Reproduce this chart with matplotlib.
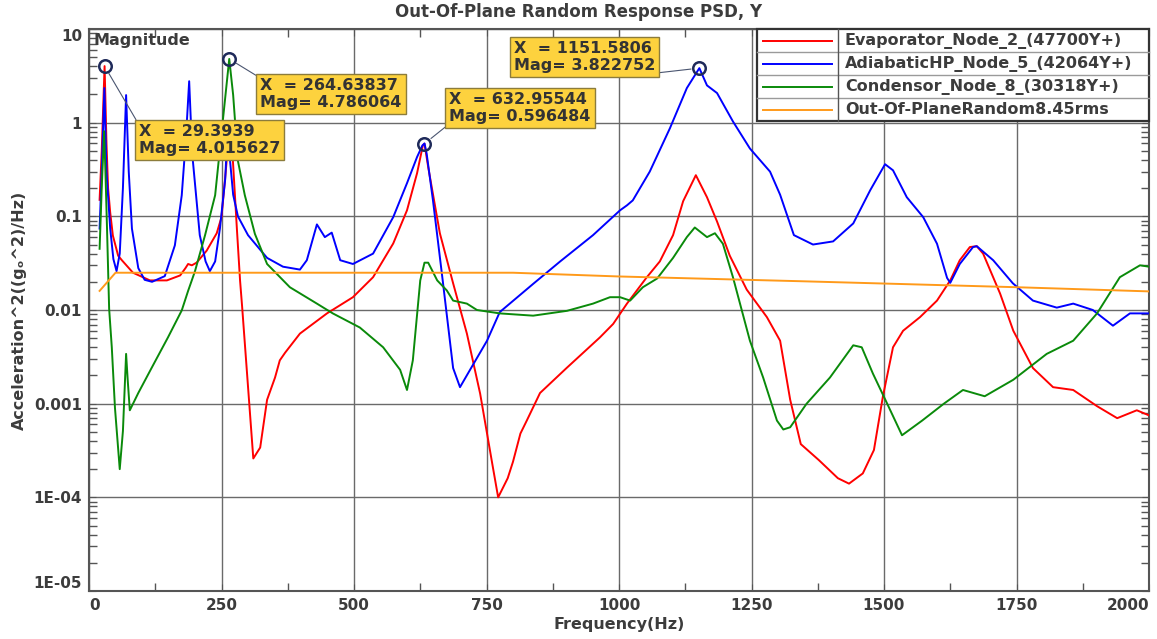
import matplotlib
matplotlib.use("Agg")
import matplotlib.pyplot as plt
from matplotlib.patches import Rectangle
from matplotlib.ticker import FixedLocator, LogLocator, MultipleLocator, NullFormatter

# values (frequency in Hz, PSD in g^2/Hz)
evap_f = [20, 24, 29.4, 33, 36, 40, 45, 55, 62, 83, 115, 147, 172, 182, 187, 194, 203,
          222, 241, 250, 258, 265, 270, 279, 285, 289, 310, 323, 336, 351, 360, 370, 398,
          449, 498, 536, 574, 600, 619, 630, 633, 640, 662, 687, 713, 738, 762, 772, 790,
          800, 814, 826, 851, 901, 964, 989, 1015, 1052, 1077, 1102, 1121, 1145, 1166,
          1185, 1209, 1241, 1279, 1304, 1323, 1343, 1377, 1413, 1434, 1460, 1481, 1498,
          1517, 1536, 1568, 1600, 1625, 1643, 1662, 1675, 1687, 1719, 1744, 1781, 1819,
          1857, 1902, 1940, 1977, 2000]
evap_mag = [0.15, 0.5, 4.016, 0.6, 0.2, 0.11, 0.0625, 0.038, 0.034, 0.025, 0.0207, 0.0207,
            0.0234, 0.028, 0.031, 0.030, 0.032, 0.043, 0.066, 0.098, 0.3, 0.9, 0.55, 0.074,
            0.0207, 0.0107, 2.6e-4, 3.4e-4, 0.0011, 0.0019, 0.0029, 0.0035, 0.0056, 0.0092,
            0.0137, 0.0224, 0.0513, 0.116, 0.289, 0.575, 0.596, 0.335, 0.066, 0.0193, 0.0056,
            0.00128, 2.1e-4, 1.0e-4, 1.6e-4, 2.4e-4, 4.8e-4, 6.6e-4, 0.0013, 0.0024, 0.0051,
            0.0071, 0.0117, 0.0222, 0.033, 0.063, 0.145, 0.275, 0.16, 0.088, 0.038, 0.0165,
            0.0084, 0.0047, 0.0011, 3.7e-4, 2.5e-4, 1.6e-4, 1.4e-4, 1.8e-4, 3.2e-4, 0.0012,
            0.004, 0.006, 0.0084, 0.0126, 0.0207, 0.034, 0.047, 0.048, 0.04, 0.015, 0.006,
            0.0024, 0.0015, 0.0014, 9.4e-4, 7.0e-4, 8.5e-4, 7.5e-4]

adia_f = [20, 24, 29, 33, 40, 46, 52, 58, 64, 70, 75, 81, 93, 105, 119, 143, 162, 175, 183,
          189, 193, 196, 209, 220, 228, 238, 247, 257, 262, 266, 272, 281, 300, 326, 336,
          366, 398, 411, 430, 445, 458, 474, 498, 536, 574, 600, 619, 629, 633, 637, 649,
          668, 687, 700, 719, 751, 775, 838, 889, 951, 1002, 1015, 1026, 1058, 1096, 1128,
          1151.6, 1166, 1185, 1215, 1247, 1285, 1304, 1330, 1366, 1404, 1442, 1474, 1502,
          1517, 1543, 1574, 1600, 1619, 1625, 1643, 1668, 1675, 1706, 1743, 1781, 1826,
          1857, 1894, 1932, 1964, 2000]
adia_mag = [0.074, 0.3, 2.34, 0.3, 0.074, 0.035, 0.026, 0.04, 0.2, 1.97, 0.3, 0.074, 0.028,
            0.021, 0.020, 0.023, 0.049, 0.168, 0.7, 2.77, 0.8, 0.39, 0.063, 0.033, 0.026,
            0.033, 0.074, 0.25, 1.0, 0.4, 0.17, 0.1, 0.063, 0.042, 0.036, 0.029, 0.027,
            0.034, 0.082, 0.06, 0.067, 0.034, 0.031, 0.04, 0.098, 0.226, 0.43, 0.57, 0.6,
            0.47, 0.148, 0.0193, 0.0024, 0.0015, 0.0023, 0.0047, 0.0095, 0.019, 0.033, 0.063,
            0.116, 0.131, 0.148, 0.30, 0.87, 2.34, 3.82, 2.5, 2.07, 1.03, 0.53, 0.30, 0.17,
            0.063, 0.05, 0.054, 0.084, 0.19, 0.36, 0.31, 0.16, 0.098, 0.051, 0.022, 0.0195,
            0.031, 0.047, 0.048, 0.034, 0.0193, 0.0126, 0.0106, 0.0117, 0.01, 0.0068, 0.0092,
            0.0092]

cond_f = [20, 24, 28.5, 31, 34, 38, 43, 49, 58, 64, 70, 73, 77, 93, 118, 149, 175, 187, 193,
          200, 219, 238, 251, 264.6, 272, 281, 294, 313, 336, 379, 430, 460, 511, 555, 587,
          600, 611, 625, 633, 640, 657, 675, 687, 713, 732, 775, 838, 902, 951, 983, 1002,
          1021, 1045, 1072, 1102, 1128, 1143, 1166, 1181, 1196, 1215, 1247, 1272, 1298,
          1310, 1323, 1354, 1398, 1442, 1458, 1479, 1506, 1534, 1572, 1613, 1649, 1690,
          1744, 1807, 1857, 1902, 1945, 1983, 2000]
cond_mag = [0.045, 0.2, 0.81, 0.3, 0.074, 0.0103, 0.004, 9e-4, 2.0e-4, 5.1e-4, 0.0034,
            0.0018, 8.5e-4, 0.0013, 0.0024, 0.0051, 0.0099, 0.016, 0.02, 0.026, 0.063, 0.168,
            0.87, 4.79, 1.97, 0.39, 0.168, 0.065, 0.031, 0.0175, 0.0117, 0.0092, 0.0065,
            0.004, 0.0023, 0.0014, 0.0029, 0.0207, 0.032, 0.032, 0.0207, 0.0162, 0.0126,
            0.0117, 0.01, 0.0092, 0.0087, 0.0098, 0.0117, 0.0137, 0.0137, 0.0126, 0.0175,
            0.0217, 0.036, 0.06, 0.076, 0.06, 0.066, 0.051, 0.0224, 0.0047, 0.0019, 6.6e-4,
            5.3e-4, 5.6e-4, 0.001, 0.0019, 0.0042, 0.004, 0.0021, 0.001, 4.6e-4, 6.6e-4,
            0.001, 0.0014, 0.0012, 0.0018, 0.0034, 0.0047, 0.0092, 0.0224, 0.03, 0.029]

input_f = [20, 50, 800, 1000, 1341, 1751, 2000]
input_mag = [0.016, 0.025, 0.025, 0.0228, 0.0203, 0.0175, 0.0158]

series_names = ["Evaporator_Node_2_(47700Y+)", "AdiabaticHP_Node_5_(42064Y+)",
                "Condensor_Node_8_(30318Y+)", "Out-Of-PlaneRandom8.45rms"]
series_colors = ["#ff0000", "#0000ff", "#0a8a0a", "#ff9a1a"]

peak_f = [29.3939, 264.63837, 632.95544, 1151.5806]
peak_mag = [4.015627, 4.786064, 0.596484, 3.822752]
peak_text = ["X  = 29.3939\nMag= 4.015627", "X  = 264.63837\nMag= 4.786064",
             "X  = 632.95544\nMag= 0.596484", "X  = 1151.5806\nMag= 3.822752"]

x_ticks = [0, 250, 500, 750, 1000, 1250, 1500, 1750, 2000]
y_ticks = [1e-5, 1e-4, 1e-3, 1e-2, 0.1, 1, 10]
y_tick_labels = ["1E-05", "1E-04", "0.001", "0.01", "0.1", "1", "10"]

TXT = "#3c3c3c"
plt.rcParams["font.family"] = ["DejaVu Sans"]
plt.rcParams["font.weight"] = "bold"
plt.rcParams["axes.labelweight"] = "bold"

fig = plt.figure(figsize=(11.57, 6.39), dpi=100)
ax = fig.add_axes([89 / 1157, 1 - 591 / 639, 1060 / 1157, 562 / 639])

data = [(evap_f, evap_mag), (adia_f, adia_mag), (cond_f, cond_mag), (input_f, input_mag)]
for (f, m), c in zip(data, series_colors):
    ax.plot(f, m, color=c, lw=1.4, zorder=3)

ax.set_yscale("log")
ax.set_xlim(0, 2000)
ax.set_ylim(1e-5, 10)
ax.set_axisbelow(True)

ax.xaxis.set_major_locator(FixedLocator(x_ticks))
ax.xaxis.set_minor_locator(MultipleLocator(125))
ax.set_xticklabels([str(t) for t in x_ticks])
ax.yaxis.set_major_locator(FixedLocator(y_ticks))
ax.set_yticklabels(y_tick_labels)
ax.yaxis.set_minor_locator(LogLocator(base=10, subs=range(2, 10)))
ax.yaxis.set_minor_formatter(NullFormatter())

ax.grid(True, which="major", color="#6a6a6a", lw=1.0)
ax.tick_params(which="both", direction="in", top=True, right=True, colors="#555555",
               labelcolor=TXT, labelsize=11)
ax.tick_params(which="major", length=5, pad=5)
ax.tick_params(which="minor", length=6, width=1)
for s in ax.spines.values():
    s.set_color("#555555")
    s.set_linewidth(1.5)

xl = ax.get_xticklabels()
xl[0].set_ha("left")
xl[-1].set_ha("right")
yl = ax.get_yticklabels()
yl[0].set_va("bottom")
yl[-1].set_va("top")

ax.set_xlabel("Frequency(Hz)", fontsize=11.5, fontweight="bold", color=TXT, labelpad=3)
ax.set_ylabel("Acceleration^2((g\u2092^2)/Hz)", fontsize=11.5, fontweight="bold",
              color=TXT, labelpad=5)
fig.text(0.5, 1 - 12 / 639, "Out-Of-Plane Random Response PSD, Y", ha="center", va="center",
         fontsize=12, color=TXT)
ax.text(0.004, 0.993, "Magnitude", transform=ax.transAxes, ha="left", va="top",
        fontsize=11.5, color=TXT, zorder=6)

# peak markers and value boxes
ax.plot(peak_f, peak_mag, "o", ms=9, mfc="none", mec="#1f2a5a", mew=1.8, zorder=8)
offsets = [(34, -58), (31, -19), (25, 20), (-44, -5)]
anchors = [("left", "top", (0, 1)), ("left", "top", (0, 1)),
           ("left", "bottom", (0, 0)), ("right", "bottom", (1, 0))]
for f, m, t, off, (ha, va, rp) in zip(peak_f, peak_mag, peak_text, offsets, anchors):
    ax.annotate(t, xy=(f, m), xytext=off, textcoords="offset pixels", ha=ha, va=va,
                multialignment="left", fontsize=11.5, color="#333333", linespacing=1.15,
                zorder=9,
                bbox=dict(boxstyle="square,pad=0.25", fc="#fdd23e", ec="#8c7c3c", lw=1),
                arrowprops=dict(arrowstyle="-", color="#4a5570", lw=0.8, shrinkA=0,
                                shrinkB=6, relpos=rp))

# table-style legend in the upper right corner
lx0, lx1, ly1, row_h, col_x = 0.630, 1.0, 1.0, 0.041, 0.707
ly0 = ly1 - 4 * row_h
ax.add_patch(Rectangle((lx0, ly0), lx1 - lx0, ly1 - ly0, transform=ax.transAxes,
                       fc="white", ec="#333333", lw=1.6, zorder=10, clip_on=False))
for i in range(1, 4):
    ax.plot([lx0, lx1], [ly1 - i * row_h] * 2, transform=ax.transAxes, color="#9a9a9a",
            lw=1, zorder=11, clip_on=False)
ax.plot([col_x, col_x], [ly0, ly1], transform=ax.transAxes, color="#555555", lw=1,
        zorder=11, clip_on=False)
for i, (name, c) in enumerate(zip(series_names, series_colors)):
    yc = ly1 - (i + 0.5) * row_h
    ax.plot([0.636, 0.701], [yc, yc], transform=ax.transAxes, color=c, lw=1.4,
            zorder=12, clip_on=False)
    ax.text(0.713, yc, name, transform=ax.transAxes, va="center", fontsize=11.5,
            color=TXT, zorder=12)

fig.savefig("out.png", dpi=100)
